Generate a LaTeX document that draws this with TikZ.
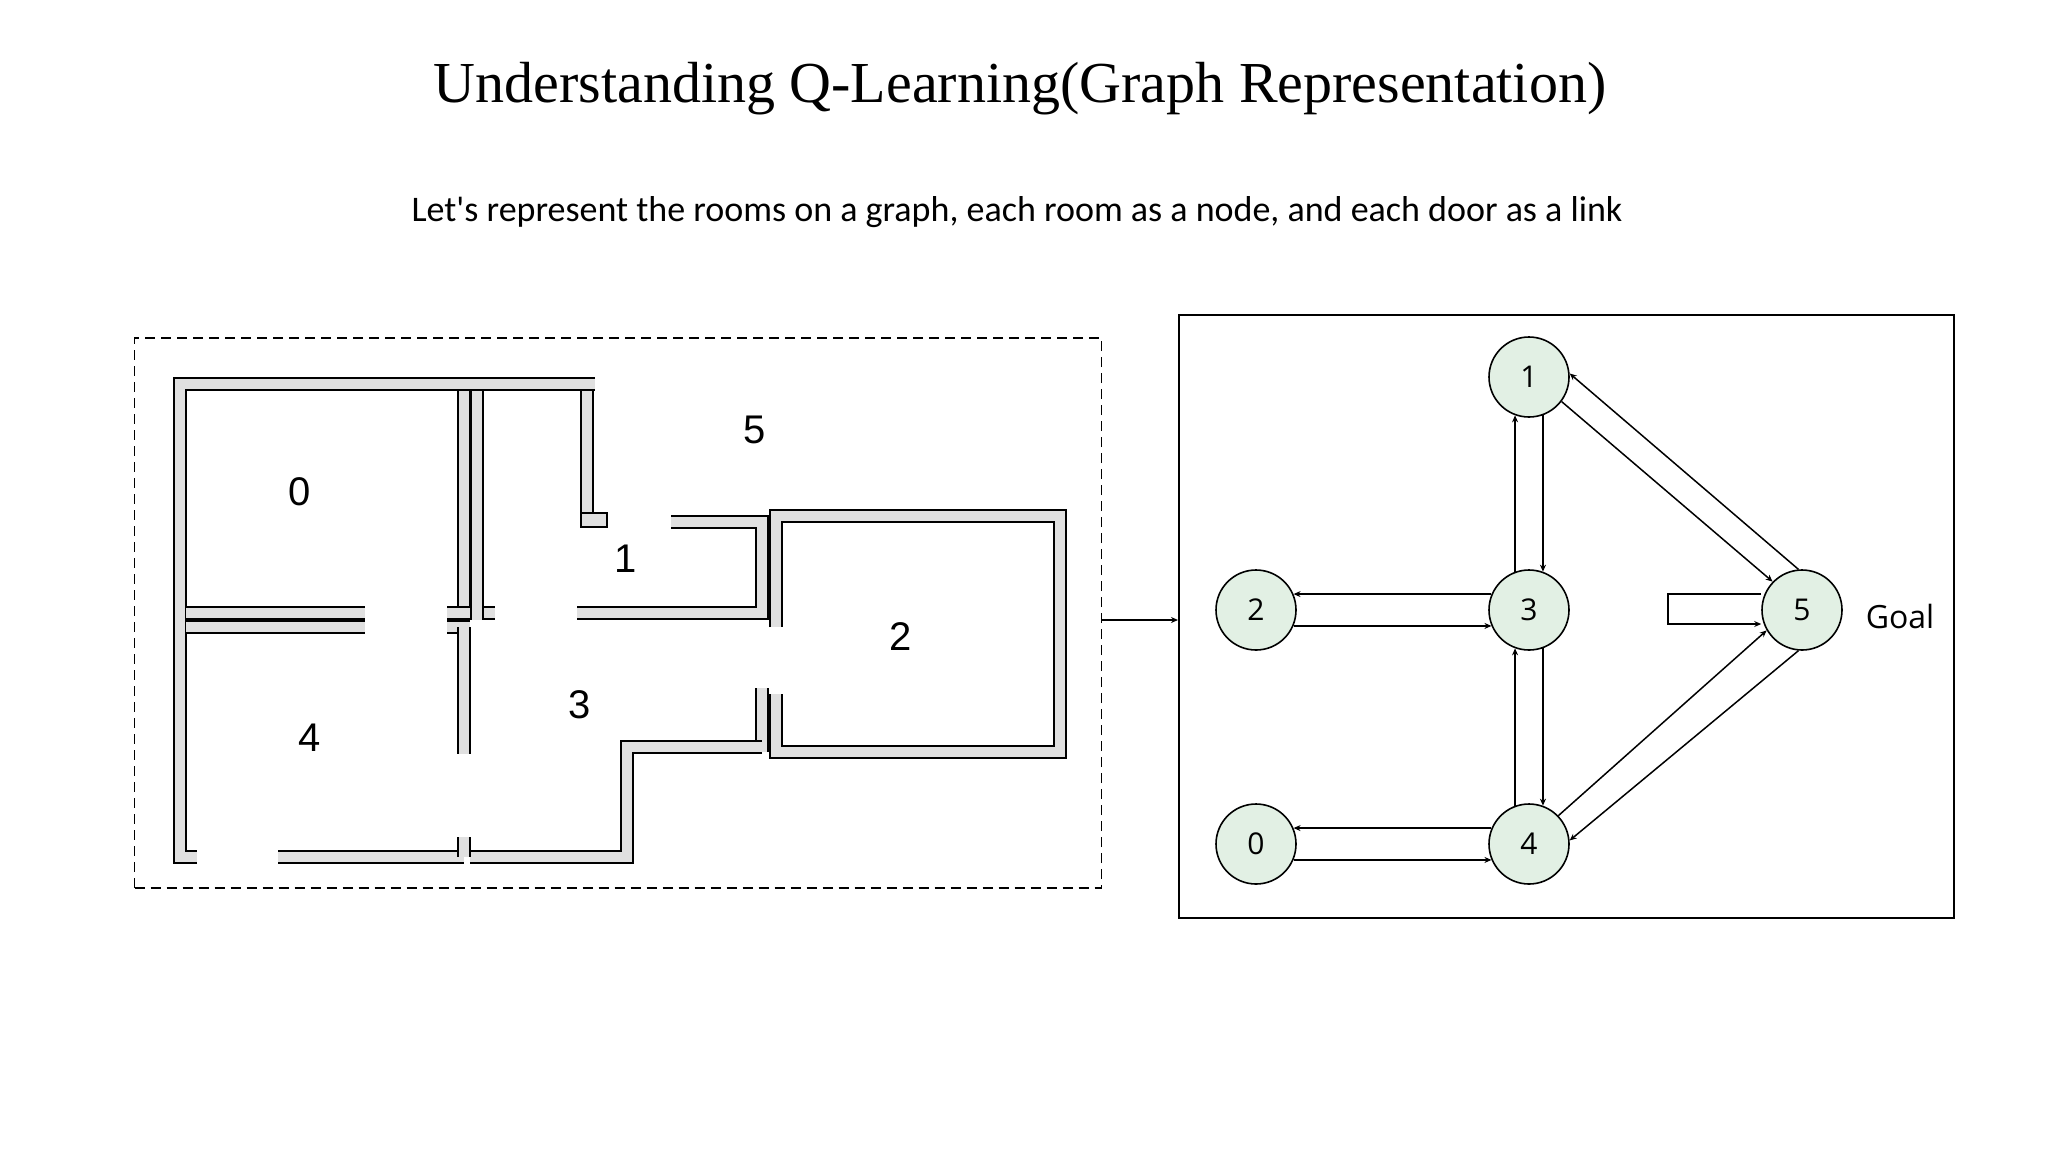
\documentclass[tikz,border=0pt]{standalone}
\usepackage{fontspec}
\setmainfont{Liberation Serif}
\newfontfamily\subf{Carlito}
\newfontfamily\nodef{Open Sans}
\newfontfamily\planf{Liberation Sans}
\usetikzlibrary{arrows.meta}
\definecolor{nodegreen}{HTML}{E2F0E4}
\definecolor{wallgray}{HTML}{E0E0E0}
\tikzset{
  wall/.style={line width=1.6pt, double=wallgray, double distance=10pt},
  gnode/.style={circle, draw, line width=1.6pt, fill=nodegreen, minimum size=80pt, inner sep=0pt, font=\nodef\fontsize{30}{30}\selectfont},
  arr/.style={line width=1.5pt, -{Stealth[length=7pt,width=6pt]}},
  plab/.style={font=\planf\fontsize{40}{40}\selectfont},
}
\begin{document}
\begin{tikzpicture}[x=1pt,y=-1pt]
\useasboundingbox (0,0) rectangle (2048,1152);
\node (title) at (1020,89) {\fontsize{58}{60}\selectfont Understanding Q-Learning(Graph Representation)};
\node (sub) at (1017,212) {\subf\fontsize{36}{40}\selectfont Let's represent the rooms on a graph, each room as a node, and each door as a link};
% left panel
\node (lbox) [draw, dashed, line width=1.6pt, dash pattern=on 10pt off 6pt, minimum width=967pt, minimum height=550pt, inner sep=0pt] at (618,613) {};
% walls
\draw[wall] (197,857)--(180,857)--(180,384)--(595,384);
\draw[wall] (464,391)--(464,620);
\draw[wall] (477,391)--(477,620);
\draw[wall] (587,391)--(587,516);
\draw[line width=1.6pt, fill=wallgray] (581,513) rectangle (607,527);
\draw[wall] (186,613)--(365,613);
\draw[wall] (186,627)--(365,627);
\draw[wall] (447,613)--(470,613);
\draw[wall] (447,627)--(470,627);
\draw[wall] (484,613)--(495,613);
\draw[wall] (464,627)--(464,754);
\draw[wall] (577,613)--(762,613)--(762,522)--(671,522);
\draw[wall] (776,627)--(776,516)--(1060,516)--(1060,752)--(776,752)--(776,694);
\draw[wall] (762,688)--(762,752);
\draw[wall] (762,747)--(627,747)--(627,857)--(470,857);
\draw[wall] (278,857)--(464,857);
\draw[wall] (464,837)--(464,857);
\node[plab] (r0) at (300,492) {0};
\node[plab] (r5) at (755,430) {5};
\node[plab] (r1) at (626,559) {1};
\node[plab] (r2) at (901,637) {2};
\node[plab] (r3) at (580,705) {3};
\node[plab] (r4) at (310,738) {4};
% right panel
\node (rbox) [draw, line width=2pt, minimum width=775pt, minimum height=603pt, inner sep=0pt] at (1566.5,616.5) {};
\draw[arr] (lbox.east |- 0,620) -- (rbox.west |- 0,620);
\node[gnode] (n1) at (1529,377) {1};
\node[gnode] (n2) at (1256,610) {2};
\node[gnode] (n3) at (1529,610) {3};
\node[gnode] (n5) at (1802,610) {5};
\node[gnode] (n0) at (1256,844) {0};
\node[gnode] (n4) at (1529,844) {4};
\node (goal) [font=\nodef\fontsize{32}{32}\selectfont] at (1900,616) {Goal};
\draw[arr] (n3.157) -- (n2.23);
\draw[arr] (n2.-23) -- (n3.203);
\draw[arr] (n4.157) -- (n0.23);
\draw[arr] (n0.-23) -- (n4.203);
\draw[arr] (n3.110) -- (n1.250);
\draw[arr] (n1.290) -- (n3.70);
\draw[arr] (n4.110) -- (n3.250);
\draw[arr] (n3.290) -- (n4.70);
\draw[arr] (n5.95) -- (n1.5);
\draw[arr] (n1.-37) -- (n5.136);
\draw[arr] (n4.44) -- (n5.210);
\draw[arr] (n5.265) -- (n4.5);
\coordinate (lp1) at (1668,594);
\coordinate (lp2) at (1668,624);
\draw[arr] (n5.west |- lp1) -- (lp1) -- (lp2) -- (n5.west |- lp2);
\end{tikzpicture}
\end{document}
